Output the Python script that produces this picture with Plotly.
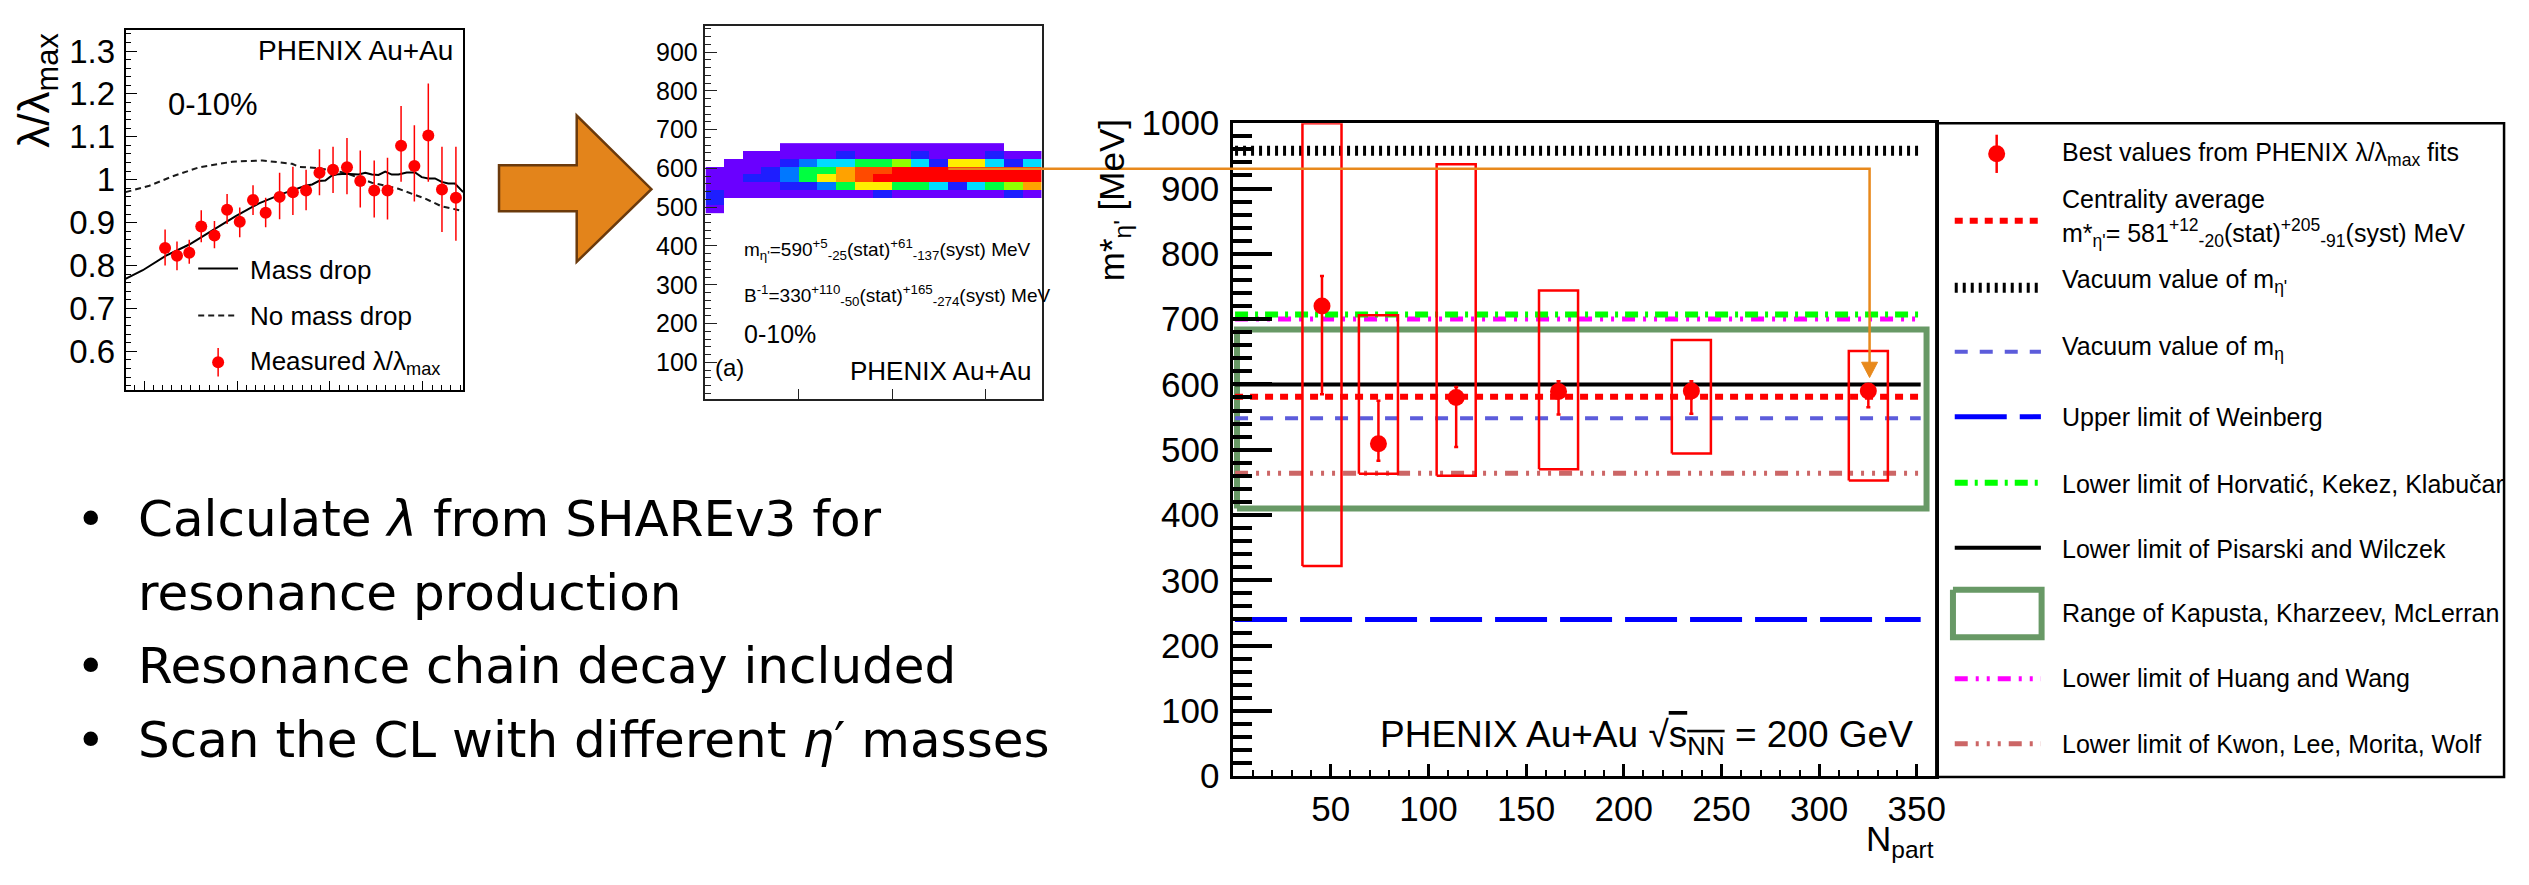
import plotly.graph_objects as go

W, H = 2529, 885
ROOTFONT = "Liberation Sans, Arial, sans-serif"
SLIDEFONT = "DejaVu Sans, sans-serif"

# ---------------- Left panel: lambda/lambda_max vs m_T (0-10%) ----------------
mt = [0.2226, 0.2354, 0.2486, 0.2615, 0.2757, 0.2893, 0.3029, 0.3172, 0.3308, 0.3458,
      0.3601, 0.3743, 0.3887, 0.4033, 0.4183, 0.4326, 0.4476, 0.4619, 0.4765, 0.4908,
      0.5058, 0.5205, 0.5355]
lam_ratio = [0.841, 0.823, 0.830, 0.891, 0.870, 0.930, 0.902, 0.953, 0.923, 0.960,
             0.971, 0.975, 1.016, 1.023, 1.029, 0.997, 0.975, 0.975, 1.079, 1.032,
             1.103, 0.977, 0.958]
lam_err_up = [0.043, 0.033, 0.030, 0.038, 0.034, 0.037, 0.033, 0.034, 0.035, 0.056,
              0.059, 0.048, 0.055, 0.054, 0.068, 0.071, 0.070, 0.076, 0.093, 0.095,
              0.121, 0.100, 0.119]
lam_err_dn = [0.041, 0.034, 0.026, 0.037, 0.030, 0.033, 0.036, 0.035, 0.034, 0.052,
              0.053, 0.046, 0.052, 0.054, 0.063, 0.062, 0.063, 0.068, 0.084, 0.083,
              0.108, 0.099, 0.100]
mt_massdrop = [0.180, 0.1986, 0.2236, 0.2486, 0.2736, 0.2986, 0.3236, 0.3486, 0.3737,
               0.3808, 0.3879, 0.3950, 0.4022, 0.4094, 0.4166, 0.4237, 0.4308, 0.4380,
               0.4451, 0.4522, 0.4594, 0.4665, 0.4737, 0.4826, 0.4916, 0.4987, 0.5058,
               0.5130, 0.5201, 0.5272, 0.5344, 0.5433]
lam_massdrop = [0.769, 0.789, 0.823, 0.849, 0.882, 0.915, 0.945, 0.967, 0.986,
                0.989, 0.997, 0.998, 1.010, 1.013, 1.014, 1.013, 1.012, 1.016,
                1.012, 1.011, 1.019, 1.012, 1.012, 1.017, 1.017, 1.006, 1.003,
                1.003, 0.995, 0.991, 0.991, 0.971]
mt_nodrop = [0.180, 0.2057, 0.2307, 0.2593, 0.2950, 0.3272, 0.3593, 0.3665, 0.3879,
             0.4166, 0.4451, 0.4737, 0.5023, 0.5201, 0.5433]
lam_nodrop = [0.971, 0.986, 1.008, 1.029, 1.042, 1.045, 1.037, 1.030, 1.027,
              1.016, 0.993, 0.979, 0.956, 0.938, 0.927]
lam_tickvals = [0.6, 0.7, 0.8, 0.9, 1.0, 1.1, 1.2, 1.3]
lam_ticktext = ["0.6", "0.7", "0.8", "0.9", "1", "1.1", "1.2", "1.3"]

# ---------------- Middle panel: CL map in (B^-1, m_eta') ----------------
binv_centers = [10, 30, 50, 70, 90, 110, 130, 150, 170, 190, 210, 230, 250, 270, 290, 310, 330, 350]
meta_centers = [495, 515, 535, 555, 575, 595, 615, 635, 655]
cl_levels = [  # rows bottom (495) -> top (655); 0 = empty
    [1, 0, 0, 0, 0, 0, 0, 0, 0, 0, 0, 0, 0, 0, 0, 0, 0, 0],
    [2, 0, 0, 0, 0, 0, 0, 0, 0, 0, 0, 0, 0, 0, 0, 0, 0, 0],
    [2, 1, 1, 1, 1, 1, 1, 1, 1, 2, 1, 1, 1, 1, 1, 1, 2, 1],
    [1, 1, 1, 1, 2, 2, 3, 5, 7, 7, 5, 5, 4, 2, 4, 5, 6, 8],
    [1, 1, 2, 2, 3, 5, 7, 8, 9, 10, 10, 10, 10, 10, 10, 10, 10, 10],
    [1, 1, 1, 2, 3, 5, 5, 8, 9, 9, 10, 10, 10, 10, 10, 10, 10, 10],
    [0, 1, 1, 1, 2, 3, 4, 4, 5, 5, 6, 4, 2, 7, 7, 4, 2, 4],
    [0, 0, 1, 1, 1, 1, 1, 2, 1, 1, 1, 2, 1, 1, 1, 2, 1, 1],
    [0, 0, 0, 0, 1, 1, 1, 1, 1, 1, 1, 1, 1, 1, 1, 1, 0, 0],
]
palette = ["#6a00ff", "#1e1eff", "#0078ff", "#00dcff", "#00ff40",
           "#90ff00", "#ffee00", "#ffa200", "#ff4a00", "#ff0000"]
heat_yticks = [100, 200, 300, 400, 500, 600, 700, 800, 900]

# ---------------- Right panel: m*_eta' vs N_part ----------------
npart = [45.5, 74.4, 114.2, 166.6, 234.6, 325.2]
meta_best = [720, 509, 580, 589, 590, 590]
stat_up = [46, 66, 16, 16, 15, 5]
stat_dn = [135, 26, 76, 35, 35, 25]
syst_up = [280, 197, 357, 155, 78, 61]
syst_dn = [398, 46, 120, 119, 96, 137]
m_etaprime_vac = 958
centrality_avg = 581
m_eta_vac = 548
weinberg_upper = 240
horvatic_lower = 707
pisarski_lower = 600
huang_lower = 700
kwon_lower = 464
kapusta_range = [410, 684]
npart_ticks = [50, 100, 150, 200, 250, 300, 350]
mass_ticks = [0, 100, 200, 300, 400, 500, 600, 700, 800, 900, 1000]

# ---------------- layout constants ----------------
BOX_HALF = 10          # half width of systematic boxes (N_part units)
LINE_X0, LINE_X1 = 1, 352
KAP_X0, KAP_X1 = 2, 355


def pxx(x):
    return x / W


def pyy(y):
    return 1 - y / H


fig = go.Figure()

# ===== left panel =====
fig.add_trace(go.Scatter(x=mt_nodrop, y=lam_nodrop, mode="lines", xaxis="x", yaxis="y",
                         line=dict(color="#1a1a1a", width=2, dash="6px,4px")))
fig.add_trace(go.Scatter(x=mt_massdrop, y=lam_massdrop, mode="lines", xaxis="x", yaxis="y",
                         line=dict(color="black", width=2)))
fig.add_trace(go.Scatter(x=mt, y=lam_ratio, mode="markers", xaxis="x", yaxis="y",
                         marker=dict(color="red", size=12),
                         error_y=dict(type="data", symmetric=False, array=lam_err_up,
                                      arrayminus=lam_err_dn, color="red", thickness=1.5, width=0)))

# ===== middle panel =====
cs = []
for k, c in enumerate(palette):
    cs.append([k / len(palette), c])
    cs.append([(k + 1) / len(palette), c])
zmat = [[(v if v > 0 else None) for v in row] for row in cl_levels]
fig.add_trace(go.Heatmap(x=binv_centers, y=meta_centers, z=zmat, xaxis="x2", yaxis="y2",
                         colorscale=cs, zmin=0.5, zmax=len(palette) + 0.5, showscale=False,
                         hoverinfo="skip"))

# ===== right panel =====
fig.add_trace(go.Scatter(x=[KAP_X0, KAP_X1, KAP_X1, KAP_X0, KAP_X0],
                         y=[kapusta_range[0], kapusta_range[0], kapusta_range[1], kapusta_range[1], kapusta_range[0]],
                         mode="lines", xaxis="x3", yaxis="y3",
                         line=dict(color="#689966", width=6)))
ref_lines = [
    (weinberg_upper, "#0000ff", 5, "52px,13px"),
    (kwon_lower, "#cc6666", 5, "13px,8px,3px,8px,3px,8px,3px,8px"),
    (m_eta_vac, "#5c5cdb", 4, "13px,12px"),
    (pisarski_lower, "black", 4, "solid"),
    (huang_lower, "#ff00ff", 5, "13px,8px,3px,8px,3px,8px"),
    (horvatic_lower, "#00ff00", 6, "13px,7px,3px,7px"),
    (m_etaprime_vac, "black", 10, "3px,5px"),
    (centrality_avg, "#ff0000", 6, "8px,7px"),
]
for val, col, wid, dash in ref_lines:
    fig.add_trace(go.Scatter(x=[LINE_X0, LINE_X1], y=[val, val], mode="lines",
                             xaxis="x3", yaxis="y3", line=dict(color=col, width=wid, dash=dash)))

bx, by = [], []
for n, m, up, dn in zip(npart, meta_best, syst_up, syst_dn):
    x0, x1 = n - BOX_HALF, n + BOX_HALF
    y0, y1 = m - dn, m + up
    bx += [x0, x1, x1, x0, x0, None]
    by += [y0, y0, y1, y1, y0, None]
fig.add_trace(go.Scatter(x=bx, y=by, mode="lines", xaxis="x3", yaxis="y3",
                         line=dict(color="#ff0000", width=2.5)))
fig.add_trace(go.Scatter(x=npart, y=meta_best, mode="markers", xaxis="x3", yaxis="y3",
                         marker=dict(color="#ff0000", size=17),
                         error_y=dict(type="data", symmetric=False, array=stat_up, arrayminus=stat_dn,
                                      color="#ff0000", thickness=2.5, width=2)))


# ===== pixel overlay axis for legends =====
def ov(xs, ys, **kw):
    fig.add_trace(go.Scatter(x=xs, y=ys, xaxis="x4", yaxis="y4", **kw))


# left legend
ov([199, 239], [260, 260], mode="lines", line=dict(color="black", width=2))
ov([199, 239], [309, 309], mode="lines", line=dict(color="#1a1a1a", width=2, dash="6px,4px"))
ov([219], [358], mode="markers", marker=dict(color="red", size=12),
   error_y=dict(type="constant", value=15, color="red", thickness=1.5, width=0))
# right legend
LX0, LX1 = 1962.5, 2049
ov([2004.6], [140], mode="markers", marker=dict(color="#ff0000", size=17),
   error_y=dict(type="constant", value=20, color="#ff0000", thickness=2.5, width=0))
ov([LX0, LX1], [210, 210], mode="lines", line=dict(color="#ff0000", width=6, dash="8px,7px"))
ov([LX0, LX1], [280, 280], mode="lines", line=dict(color="black", width=10, dash="3px,5px"))
ov([LX0, LX1], [347, 347], mode="lines", line=dict(color="#5c5cdb", width=4, dash="13px,12px"))
ov([LX0, LX1], [415, 415], mode="lines", line=dict(color="#0000ff", width=5, dash="52px,13px"))
ov([LX0, LX1], [484, 484], mode="lines", line=dict(color="#00ff00", width=6, dash="13px,7px,3px,7px"))
ov([LX0, LX1], [552, 552], mode="lines", line=dict(color="black", width=4))
ov([1960.7, 2049.7, 2049.7, 1960.7, 1960.7], [596, 596, 645.7, 645.7, 596], mode="lines",
   line=dict(color="#689966", width=6))
ov([LX0, LX1], [689, 689], mode="lines", line=dict(color="#ff00ff", width=5, dash="13px,8px,3px,8px,3px,8px"))
ov([LX0, LX1], [757, 757], mode="lines", line=dict(color="#cc6666", width=5,
                                                     dash="13px,8px,3px,8px,3px,8px,3px,8px"))

# ===== axes =====
common = dict(showgrid=False, zeroline=False, showline=True, mirror=True, linecolor="black")
fig.update_layout(
    width=W, height=H, margin=dict(l=0, r=0, t=0, b=0),
    paper_bgcolor="white", plot_bgcolor="rgba(0,0,0,0)", showlegend=False,
    font=dict(family=ROOTFONT, color="black"),
    xaxis=dict(domain=[pxx(126), pxx(465)], anchor="y", range=[0.18, 0.5433], linewidth=1.5,
               ticks="inside", tickmode="linear", tick0=0.2, dtick=0.1, ticklen=9, tickwidth=1.2,
               tickcolor="black", showticklabels=False,
               minor=dict(ticks="inside", tick0=0.2, dtick=0.01, ticklen=5, tickwidth=1, tickcolor="black"),
               **common),
    yaxis=dict(domain=[pyy(387), pyy(10)], anchor="x", range=[0.51, 1.35], linewidth=1.5,
               ticks="inside", tickvals=lam_tickvals, ticktext=lam_ticktext, ticklen=12, tickwidth=1.2,
               tickcolor="black", tickfont=dict(size=33, family=ROOTFONT), ticklabelstandoff=2,
               minor=dict(ticks="inside", tick0=0.5, dtick=0.02, ticklen=6, tickwidth=1, tickcolor="black"),
               **common),
    xaxis2=dict(domain=[pxx(708.3), pxx(1046)], anchor="y2", range=[0, 360], linewidth=1.5,
                linecolor="#222",
                ticks="inside", tickvals=[100, 200, 300], ticklen=10, tickwidth=1.2, tickcolor="#222",
                showticklabels=False, showgrid=False, zeroline=False, showline=True, mirror=True),
    yaxis2=dict(domain=[pyy(396.7), pyy(6.7)], anchor="x2", range=[5, 966], linewidth=1.5,
                linecolor="#222",
                ticks="inside", tickvals=heat_yticks, ticklen=12, tickwidth=1.2, tickcolor="#222",
                tickfont=dict(size=25, family=ROOTFONT), ticklabelstandoff=1,
                minor=dict(ticks="inside", tick0=0, dtick=20, ticklen=6, tickwidth=1, tickcolor="#222"),
                showgrid=False, zeroline=False, showline=True, mirror=True),
    xaxis3=dict(domain=[pxx(1238), pxx(1944)], anchor="y3", range=[0, 360], linewidth=2.5,
                ticks="inside", tickvals=npart_ticks, ticklen=12, tickwidth=2.5, tickcolor="black",
                tickfont=dict(size=35, family=ROOTFONT),
                minor=dict(ticks="inside", tick0=0, dtick=10, ticklen=6, tickwidth=2, tickcolor="black"),
                **common),
    yaxis3=dict(domain=[pyy(791), pyy(108)], anchor="x3", range=[0, 1000], linewidth=2.5,
                ticks="inside", tickvals=mass_ticks, ticklen=39, tickwidth=3.5, tickcolor="black",
                tickfont=dict(size=35, family=ROOTFONT), ticklabelstandoff=4,
                minor=dict(ticks="inside", tick0=0, dtick=20, ticklen=19, tickwidth=3.5, tickcolor="black"),
                **common),
    xaxis4=dict(domain=[0, 1], anchor="y4", range=[0, W], visible=False, fixedrange=True),
    yaxis4=dict(domain=[0, 1], anchor="x4", range=[H, 0], visible=False, fixedrange=True),
)


# ===== shapes: legend frame, block arrow, connector =====
def P(x, y):
    return f"{pxx(x):.6f},{pyy(y):.6f}"


shapes = [
    dict(type="rect", xref="paper", yref="paper", x0=pxx(1944), x1=pxx(2514), y0=pyy(792), y1=pyy(108),
         line=dict(color="black", width=2.5), fillcolor="rgba(0,0,0,0)", layer="above"),
    dict(type="path", xref="paper", yref="paper",
         path=f"M {P(501,152)} L {P(579,152)} L {P(579,100)} L {P(654,177)} L {P(579,253)} "
              f"L {P(579,200)} L {P(501,200)} Z",
         fillcolor="#E3841B", line=dict(color="#6B3A0C", width=2.5), layer="above"),
    dict(type="path", xref="paper", yref="paper",
         path=f"M {P(952,155.5)} L {P(1877,155.5)} L {P(1877,360)}",
         line=dict(color="#E8891C", width=2.5), layer="above"),
    dict(type="path", xref="paper", yref="paper",
         path=f"M {P(1869,358)} L {P(1885,358)} L {P(1877,374)} Z",
         fillcolor="#E8891C", line=dict(color="#E8891C", width=1), layer="above"),
]
fig.update_layout(shapes=shapes)


# ===== text =====
def ann(x, y, text, size, xanchor="left", family=ROOTFONT, angle=0, yanchor="middle"):
    return dict(x=pxx(x), y=pyy(y), xref="paper", yref="paper", text=text, showarrow=False,
                xanchor=xanchor, yanchor=yanchor, textangle=angle,
                font=dict(size=size, family=family, color="black"))


anns = [
    # left panel
    ann(37, 73, "λ/λ<sub>max</sub>", 44, xanchor="center", angle=-90),
    ann(457, 32, "PHENIX Au+Au", 28, xanchor="right"),
    ann(167, 88, "0-10%", 31),
    ann(249, 262, "Mass drop", 26),
    ann(249, 310, "No mass drop", 26),
    ann(249, 358, "Measured λ/λ<sub>max</sub>", 26),
    # middle panel
    ann(745, 240, "m<sub>η'</sub>=590<sup>+5</sup><sub>-25</sub>(stat)<sup>+61</sup><sub>-137</sub>(syst) MeV", 19),
    ann(745, 288, "B<sup>-1</sup>=330<sup>+110</sup><sub>-50</sub>(stat)<sup>+165</sup><sub>-274</sub>(syst) MeV", 19),
    ann(745, 328, "0-10%", 25),
    ann(716, 363, "(a)", 24),
    ann(1037, 367, "PHENIX Au+Au", 26, xanchor="right"),
    # right panel
    ann(1118, 189, "m*<sub>η'</sub> [MeV]", 35, xanchor="center", angle=-90),
    ann(1944, 884, "N<sub>part</sub>", 35, xanchor="right", yanchor="bottom"),
    ann(1923, 750, "PHENIX Au+Au √<span style='text-decoration:overline'>s<sub>NN</sub></span> = 200 GeV",
        37, xanchor="right"),
    # right legend
    ann(2068, 140, "Best values from PHENIX λ/λ<sub>max</sub> fits", 25),
    ann(2068, 187, "Centrality average", 25),
    ann(2068, 223, "m*<sub>η'</sub>= 581<sup>+12</sup><sub>-20</sub>(stat)<sup>+205</sup><sub>-91</sub>(syst) MeV", 25),
    ann(2068, 273, "Vacuum value of m<sub>η'</sub>", 25),
    ann(2068, 343, "Vacuum value of m<sub>η</sub>", 25),
    ann(2068, 415, "Upper limit of Weinberg", 25),
    ann(2068, 485, "Lower limit of Horvatić, Kekez, Klabučar", 25),
    ann(2068, 553, "Lower limit of Pisarski and Wilczek", 25),
    ann(2068, 620, "Range of Kapusta, Kharzeev, McLerran", 25),
    ann(2068, 688, "Lower limit of Huang and Wang", 25),
    ann(2068, 757, "Lower limit of Kwon, Lee, Morita, Wolf", 25),
]
# slide bullets
bullet_lines = [
    ("Calculate <i>λ</i> from SHAREv3 for", 522, True),
    ("resonance production", 599, False),
    ("Resonance chain decay included", 676, True),
    ("Scan the CL with different <i>η</i>′ masses", 753, True),
]
for txt, yy, dot in bullet_lines:
    anns.append(ann(137, yy, txt, 50, family=SLIDEFONT))
    if dot:
        anns.append(ann(91, yy, "•", 50, xanchor="center", family=SLIDEFONT))
fig.update_layout(annotations=anns)

fig.write_html("out.html")
